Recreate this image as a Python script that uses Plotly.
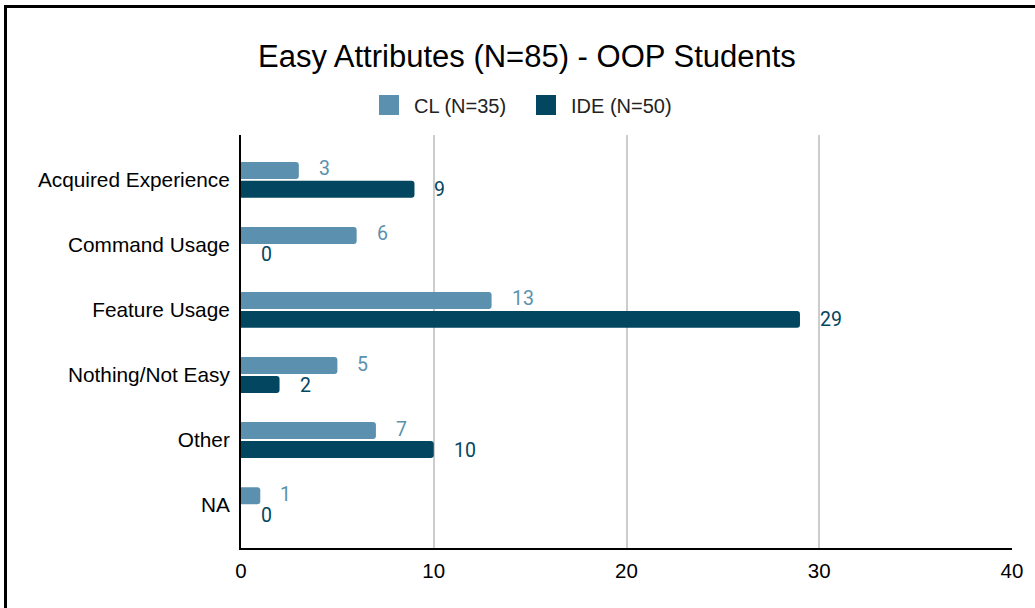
import plotly.graph_objects as go

# Survey responses: which attributes students found easy
categories = ["Acquired Experience", "Command Usage", "Feature Usage",
              "Nothing/Not Easy", "Other", "NA"]
cl_values = [3, 6, 13, 5, 7, 1]
ide_values = [9, 0, 29, 2, 10, 0]

series_names = ["CL (N=35)", "IDE (N=50)"]
series_colors = ["#5b91ae", "#03465f"]
x_ticks = [0, 10, 20, 30, 40]

title_text = "Easy Attributes (N=85) - OOP Students"

fig = go.Figure()

for name, vals, color in zip(series_names, [cl_values, ide_values], series_colors):
    fig.add_trace(go.Bar(
        y=categories, x=vals, orientation="h", name=name,
        marker=dict(color=color, line=dict(width=0)),
        showlegend=False, hoverinfo="x+y",
    ))
    # legend swatch drawn as a large square marker
    fig.add_trace(go.Scatter(
        x=[None], y=[None], mode="markers", name=name,
        marker=dict(symbol="square", size=16, color=color,
                    line=dict(color=color, width=4)),
        showlegend=True,
    ))

# value labels placed just past each bar end
annotations = []
for vals, color, shift in [(cl_values, series_colors[0], 11),
                           (ide_values, series_colors[1], -10)]:
    for cat, v in zip(categories, vals):
        annotations.append(dict(
            x=v, y=cat, xref="x", yref="y", text=str(v), showarrow=False,
            xanchor="left", yanchor="middle", xshift=18, yshift=shift,
            font=dict(family="Roboto", size=19.5, color=color),
        ))

annotations.append(dict(
    text=title_text, xref="paper", yref="paper",
    x=(527 - 241) / 771, y=1 + (135 - 56) / 413,
    xanchor="center", yanchor="middle", showarrow=False,
    font=dict(family="Liberation Sans", size=31, color="#000000"),
))

fig.update_layout(
    width=1035, height=608,
    margin=dict(l=241, r=23, t=135, b=60, pad=0),
    paper_bgcolor="white", plot_bgcolor="white",
    barmode="group", bargap=0.42, bargroupgap=0.1,
    barcornerradius=3,
    font=dict(family="Liberation Sans", size=20, color="#000000"),
    legend=dict(
        orientation="h", x=(521 - 241) / 771, xanchor="center",
        y=1 + (135 - 105) / 413, yanchor="middle",
        font=dict(family="Liberation Sans", size=20, color="#222222"),
        bgcolor="rgba(0,0,0,0)", itemwidth=40, traceorder="normal",
        entrywidth=102, entrywidthmode="pixels",
    ),
    annotations=annotations,
    shapes=[dict(
        type="rect", xref="paper", yref="paper",
        x0=(5.5 - 241) / 771, x1=1.2,
        y0=-0.5, y1=1 + (135 - 6.5) / 413,
        line=dict(color="#000000", width=3), fillcolor="rgba(0,0,0,0)",
        layer="above",
    )],
)

fig.update_xaxes(
    range=[0, 40], tickvals=x_ticks, ticktext=[str(t) for t in x_ticks],
    showgrid=True, gridcolor="#cccccc", gridwidth=1.5,
    zeroline=False, showline=True, linecolor="#000000", linewidth=2,
    ticks="", ticklabelstandoff=3,
    tickfont=dict(family="Liberation Sans", size=20.5, color="#000000"),
    fixedrange=True,
)
fig.update_yaxes(
    type="category", categoryorder="array", categoryarray=categories,
    range=[5.66, -0.69],
    showgrid=False, zeroline=False, showline=True, linecolor="#000000",
    linewidth=2, ticks="", ticklabelstandoff=5,
    tickfont=dict(family="Liberation Sans", size=20.8, color="#000000"),
    fixedrange=True,
)

fig.write_html("out.html")
